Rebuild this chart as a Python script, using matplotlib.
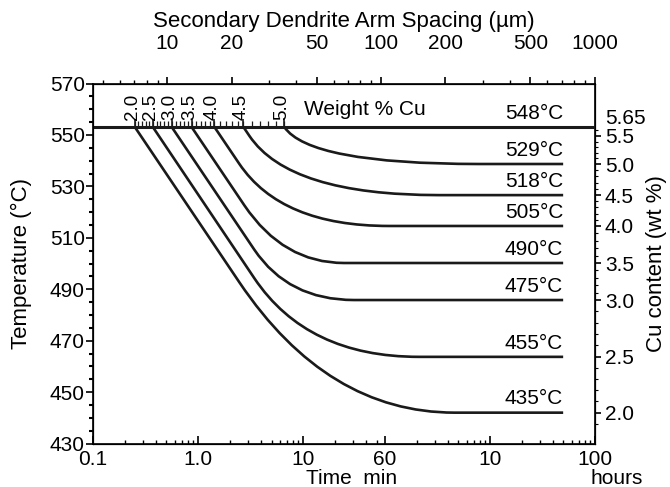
import numpy as np
import matplotlib.pyplot as plt
from matplotlib.path import Path
from matplotlib.patches import PathPatch
from matplotlib.transforms import IdentityTransform
from matplotlib.ticker import FixedLocator, FixedFormatter, NullFormatter, LogLocator

plt.rcParams['font.family'] = ['Liberation Sans', 'DejaVu Sans']
plt.rcParams['font.size'] = 15

# right axis: Cu content and where it sits against the temperature axis
scale_cu = [1.0, 2.0, 2.5, 3.0, 3.5, 4.0, 4.5, 5.0, 5.5, 5.65, 7.0]
scale_temp = [397.0, 442.0, 463.7, 485.8, 500.2, 514.6, 526.6, 538.7, 549.6, 553.1, 586.0]

# solvus line
solvus_cu = 5.65
solvus_temp = 548

# one curve per alloy (times in min): leaves the solvus line at start,
# runs straight to the knee, bends round the corner and joins the plateau
alloy_cu = [2.0, 2.5, 3.0, 3.5, 4.0, 4.5, 5.0]
alloy_temp = [435, 455, 475, 490, 505, 518, 529]
curve_start = [0.25, 0.371, 0.561, 0.867, 1.43, 2.70, 6.61]
curve_knee = [2.47, 3.43, 3.43, 2.76, 2.47, 3.08, 6.61]
curve_corner = [16.9, 10.9, 7.21, 6.46, 6.19, 7.37, 11.4]
curve_join = [276, 126, 30.4, 24.5, 65.3, 195, 466]
curve_end = 2980

time_ticks = [0.1, 1, 10, 60, 600, 6000]
time_labels = ['0.1', '1.0', '10', '60', '10', '100']
time_minor = [0.2, 0.3, 0.4, 0.5, 0.6, 0.7, 0.8, 0.9,
              2, 3, 4, 5, 6, 7, 8, 9, 20, 30, 40, 50,
              120, 180, 240, 300, 360, 420, 480, 540,
              1200, 1800, 2400, 3000, 3600, 4200, 4800, 5400]

sdas_ticks = [10, 20, 50, 100, 200, 500, 1000]
temp_ticks = [430, 450, 470, 490, 510, 530, 550, 570]
cu_ticks = [2.0, 2.5, 3.0, 3.5, 4.0, 4.5, 5.0, 5.5]

ink = '#1a1a1a'


def cu_to_temp(c):
    return np.interp(c, scale_cu, scale_temp)


def temp_to_cu(t):
    return np.interp(t, scale_temp, scale_cu)


fig = plt.figure(figsize=(6.7, 4.87), dpi=100)
ax = fig.add_axes([0.1388, 0.0893, 0.7494, 0.7392])

ax.set_xscale('log')
ax.set_xlim(0.1, 6000)
ax.set_ylim(430, 570)
ax.xaxis.set_major_locator(FixedLocator(time_ticks))
ax.xaxis.set_major_formatter(FixedFormatter(time_labels))
ax.xaxis.set_minor_locator(FixedLocator(time_minor))
ax.xaxis.set_minor_formatter(NullFormatter())
ax.set_yticks(temp_ticks)
ax.set_yticks(np.arange(430, 571, 5), minor=True)
ax.tick_params(axis='x', which='major', direction='in', length=6, width=1.2, pad=5,
               labelsize=15)
ax.tick_params(axis='x', which='minor', direction='in', length=3, width=1)
ax.tick_params(axis='y', which='major', direction='out', length=5, width=1.2, pad=1,
               labelsize=15)
ax.tick_params(axis='y', which='minor', direction='out', length=3, width=1.5)
ax.set_ylabel('Temperature (°C)', fontsize=16, labelpad=13)
for s in ax.spines.values():
    s.set_linewidth(1.2)

# Cu content axis on the right
ax_cu = ax.twinx()
ax_cu.set_yscale('function', functions=(cu_to_temp, temp_to_cu))
ax_cu.set_ylim(temp_to_cu(430), temp_to_cu(570))
ax_cu.yaxis.set_major_locator(FixedLocator(cu_ticks))
ax_cu.yaxis.set_major_formatter(FixedFormatter([f'{c:.1f}' for c in cu_ticks]))
ax_cu.yaxis.set_minor_locator(FixedLocator(np.arange(1.9, 5.61, 0.1)))
ax_cu.yaxis.set_minor_formatter(NullFormatter())
ax_cu.tick_params(axis='y', which='major', direction='out', length=4, width=1.2, pad=3,
                  labelsize=15)
ax_cu.tick_params(axis='y', which='minor', direction='out', length=2.5, width=0.8)
ax_cu.set_ylabel('Cu content (wt %)', fontsize=16, labelpad=9)
ax_cu.annotate(f'{solvus_cu:.2f}', (1.0, solvus_cu), xycoords=('axes fraction', 'data'),
               xytext=(7, 6), textcoords='offset points', ha='left', va='center',
               fontsize=15)

# dendrite arm spacing along the top
ax_top = ax.twiny()
ax_top.set_xscale('log')
ax_top.set_xlim(4.49, 1005)
ax_top.xaxis.set_major_locator(FixedLocator(sdas_ticks))
ax_top.xaxis.set_major_formatter(FixedFormatter([str(v) for v in sdas_ticks]))
ax_top.xaxis.set_minor_locator(LogLocator(subs=np.arange(2, 10)))
ax_top.xaxis.set_minor_formatter(NullFormatter())
ax_top.tick_params(axis='x', which='major', direction='out', length=5, width=1.2, pad=17,
                   labelsize=15)
ax_top.tick_params(axis='x', which='minor', direction='out', length=3, width=1)
ax_top.set_xlabel('Secondary Dendrite Arm Spacing (µm)', fontsize=16, labelpad=5)

# solvus line with its composition scale
ax_cu.plot([0.1, 6000], [solvus_cu, solvus_cu], color=ink, lw=2.2, solid_capstyle='butt')
start_log = np.log10(curve_start)
minor_cu = np.arange(2.0, 5.01, 0.1)
minor_t = 10 ** np.interp(minor_cu, alloy_cu, start_log)
ax_cu.plot(minor_t, [solvus_cu] * len(minor_t), ls='none', marker=2, ms=4.5,
           mew=0.9, color=ink)
ax_cu.plot(curve_start, [solvus_cu] * len(curve_start), ls='none', marker=2, ms=6,
           mew=1.2, color=ink)
for c, t0 in zip(alloy_cu, curve_start):
    ax_cu.annotate(f'{c:.1f}', (t0, solvus_cu), xytext=(-1.5, 5),
                   textcoords='offset points', rotation=90, ha='center', va='bottom',
                   fontsize=13.5)
ax_cu.annotate('Weight % Cu', (10.2, solvus_cu), xytext=(0, 6),
               textcoords='offset points', ha='left', va='bottom')
ax_cu.annotate(f'{solvus_temp}°C', (curve_end, solvus_cu), xytext=(0, 3),
               textcoords='offset points', ha='right', va='bottom')

# each curve: straight run, then a rounded bend into its plateau
to_px = ax_cu.transData
for i, cu in enumerate(alloy_cu):
    s = to_px.transform((curve_start[i], solvus_cu))
    c = to_px.transform((curve_corner[i], cu))
    kx = to_px.transform((curve_knee[i], cu))[0]
    k = s + (kx - s[0]) / (c[0] - s[0]) * (c - s)
    j = to_px.transform((curve_join[i], cu))
    e = to_px.transform((curve_end, cu))
    path = Path([s, k, c, j, e],
                [Path.MOVETO, Path.LINETO, Path.CURVE3, Path.CURVE3, Path.LINETO])
    ax_cu.add_artist(PathPatch(path, transform=IdentityTransform(), fill=False,
                               edgecolor=ink, lw=1.9, capstyle='butt'))
    ax_cu.annotate(f'{alloy_temp[i]}°C', (curve_end, cu), xytext=(0, 3),
                   textcoords='offset points', ha='right', va='bottom')

fig.text(352 / 670, 1 - 478 / 487, 'Time  min', ha='center', va='center')
fig.text(617 / 670, 1 - 478 / 487, 'hours', ha='center', va='center')

fig.savefig('out.png', dpi=100)
